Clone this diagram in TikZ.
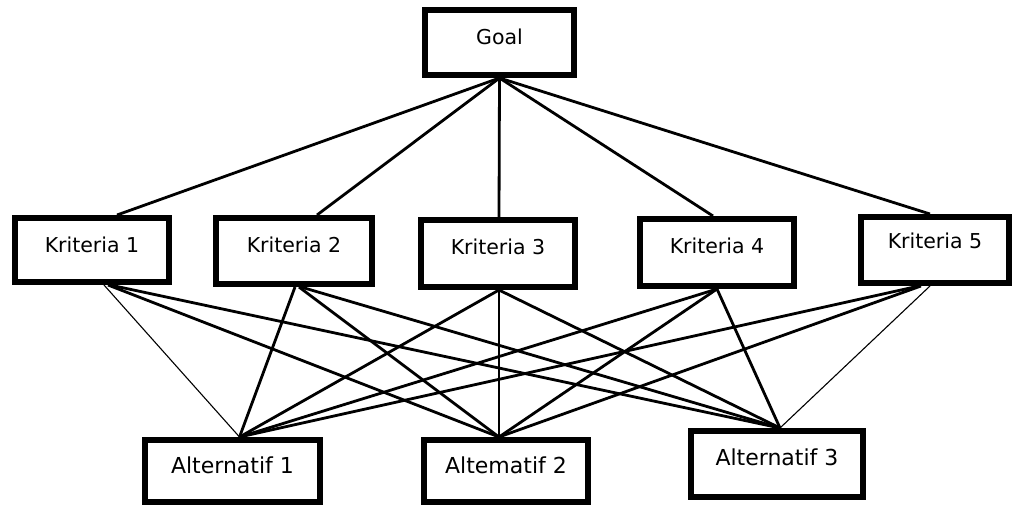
\documentclass[tikz,border=0pt]{standalone}
\usepackage{fontspec}
\setmainfont{DejaVu Sans}
\tikzset{
  box/.style={rectangle, draw=black, line width=6pt, fill=white, inner sep=0pt, font=\fontsize{20.5}{24}\selectfont},
  altbox/.style={box, font=\fontsize{22}{26}\selectfont},
  link/.style={line width=2.8pt},
  thinlink/.style={line width=1.1pt}
}
\begin{document}
\begin{tikzpicture}[x=1pt, y=-1pt]
\useasboundingbox (0,0) rectangle (1013,506);
% goal
\node[box, minimum width=149pt, text height=35pt, text depth=30pt] (goal) at (499.5,42.5) {Goal};
% kriteria
\node[box, minimum width=154pt, text height=34pt, text depth=30pt] (k1) at (92,250) {Kriteria 1};
\node[box, minimum width=156pt, text height=34pt, text depth=32pt] (k2) at (294,251) {Kriteria 2};
\node[box, minimum width=154pt, text height=34pt, text depth=33pt] (k3) at (498,253.5) {Kriteria 3};
\node[box, minimum width=154pt, text height=34pt, text depth=33pt] (k4) at (717,252.5) {Kriteria 4};
\node[box, minimum width=148pt, text height=31pt, text depth=35pt] (k5) at (935,250) {Kriteria 5};
% alternatif
\node[altbox, minimum width=175pt, text height=33pt, text depth=29pt] (a1) at (232.5,471) {Alternatif 1};
\node[altbox, minimum width=164pt, text height=33pt, text depth=29pt] (a2) at (506,471) {Altematif 2};
\node[altbox, minimum width=172pt, text height=34pt, text depth=32pt] (a3) at (777,464) {Alternatif 3};

% goal to kriteria
\draw[link] (goal.south) -- ([xshift=25pt]k1.north);
\draw[link] (goal.south) -- ([xshift=23pt]k2.north);
\draw[link] (goal.south) -- ([xshift=1pt]k3.north);
\draw[link] (goal.south) -- ([xshift=-4pt]k4.north);
\draw[link] (goal.south) -- ([xshift=-5pt]k5.north);

% kriteria to alternatif
\draw[thinlink] ([xshift=12pt]k1.south) -- ([xshift=7pt]a1.north);
\draw[link] ([xshift=16pt]k1.south) -- ([xshift=-7pt]a2.north);
\draw[link] ([xshift=18pt]k1.south) -- ([xshift=3pt]a3.north);
\draw[link] ([xshift=1pt]k2.south) -- ([xshift=7pt]a1.north);
\draw[link] ([xshift=5pt]k2.south) -- ([xshift=-7pt]a2.north);
\draw[link] ([xshift=7pt]k2.south) -- ([xshift=3pt]a3.north);
\draw[link] ([xshift=1pt]k3.south) -- ([xshift=7pt]a1.north);
\draw[link] ([xshift=1pt]k3.south) -- ([xshift=-7pt]a2.north);
\draw[link] ([xshift=1pt]k3.south) -- ([xshift=3pt]a3.north);
\draw[link] (k4.south) -- ([xshift=7pt]a1.north);
\draw[link] (k4.south) -- ([xshift=-7pt]a2.north);
\draw[link] (k4.south) -- ([xshift=3pt]a3.north);
\draw[link] ([xshift=-16pt]k5.south) -- ([xshift=7pt]a1.north);
\draw[link] ([xshift=-14pt]k5.south) -- ([xshift=-7pt]a2.north);
\draw[thinlink] ([xshift=-5pt]k5.south) -- ([xshift=3pt]a3.north);
\end{tikzpicture}
\end{document}
